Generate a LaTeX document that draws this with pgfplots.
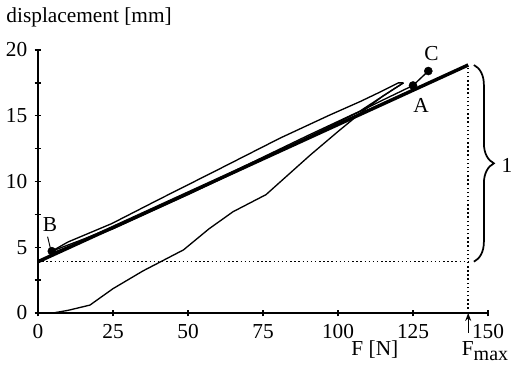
\documentclass[border=0pt]{standalone}
\usepackage{fontspec}
\setmainfont{Liberation Serif}
\usepackage{pgfplots}
\pgfplotsset{compat=1.18}
\usetikzlibrary{decorations.pathreplacing,arrows.meta}
\begin{document}
\begin{tikzpicture}[x=1pt,y=1pt,font=\fontsize{16}{18}\selectfont]
\useasboundingbox (-28.5,-45) rectangle (357,234.75);
\begin{axis}[
  at={(0,0)}, anchor=south west,
  scale only axis, width=337.5pt, height=197.25pt,
  xmin=0, xmax=150, ymin=0, ymax=20,
  axis x line=bottom, axis y line=left,
  axis line style={-, line width=1.3pt},
  xtick={0,25,...,150}, ytick={0,5,...,20},
  minor ytick={2.5,7.5,12.5,17.5},
  tick align=center,
  major tick length=5pt, minor tick length=5pt,
  tick style={line width=1pt, black},
  x tick style={line width=1.5pt},
  clip=false,
  /pgf/number format/assume math mode=true,
  ticklabel style={font=\fontsize{16}{18}\selectfont},
  xticklabel style={yshift=-2.5pt},
  yticklabel style={xshift=-2pt},
]
% thick fitted line
\addplot[black, line width=2.6pt] coordinates {(0,3.9) (143.4,18.86)};
% loading curve
\addplot[black, line width=1pt] coordinates {
 (0,0) (5,0) (10,0.2) (17.3,0.6) (25,1.85) (35,3.2) (48.5,4.8) (57,6.4)
 (65,7.7) (76,9.0) (90.7,12.0) (100,13.8) (108,15.3) (115,16.5) (121.8,17.5)};
% upper reloading line
\addplot[black, line width=1pt] coordinates {
 (4.6,4.7) (10,5.4) (24.6,6.8) (40,8.6) (60,10.9) (80.7,13.3) (97.3,15.06)
 (107.3,16.07) (114,16.8) (120.1,17.5) (121.8,17.5)};
% return line
\addplot[black, line width=1pt] coordinates {
 (121.8,17.5) (115,16.5) (107.3,15.35) (90,13.5) (70,11.3) (50,9.1)
 (30,7.0) (15,5.6) (4.6,4.7)};
% lower line through A to C
\addplot[black, line width=1pt] coordinates {
 (4.6,4.55) (25,6.4) (50,9.0) (75,11.7) (100,14.5) (115,16.2) (125,17.3) (130.1,18.4)};
% points B, A, C
\addplot[only marks, mark=*, mark size=3pt, black] coordinates {
 (4.6,4.7) (125,17.3) (130.1,18.4)};
% dotted guides
\draw[dotted, line width=1.1pt] (axis cs:0,3.9) -- (axis cs:143.4,3.9);
\draw[dotted, line width=1.1pt] (axis cs:143.4,0) -- (axis cs:143.4,18.86);
% Fmax arrow
\draw[-{Stealth[length=6pt,width=4.5pt]}, line width=0.8pt] (axis cs:143.4,-1.5) -- (axis cs:143.4,0);
% brace
\draw[decorate, decoration={brace, amplitude=15pt}, line width=1.3pt]
  (axis cs:145.3,18.86) -- (axis cs:145.3,3.9);
% B leader
\draw[line width=0.7pt] (axis cs:3.2,5.8) -- (axis cs:4.1,4.95);
% labels
\node[anchor=west, inner sep=0pt] at (axis cs:-10.6,22.5) {displacement [mm]};
\node[inner sep=0pt] at (axis cs:112.3,-2.75) {F [N]};
\node[anchor=west, inner sep=0pt] at (axis cs:141.2,-2.9) {F\raisebox{-0.55ex}{\fontsize{15}{16}\selectfont max}};
\node[inner sep=0pt] at (axis cs:156.3,11.25) {1};
\node[inner sep=0pt] at (axis cs:127.7,15.8) {A};
\node[inner sep=0pt] at (axis cs:4,6.7) {B};
\node[inner sep=0pt] at (axis cs:131.2,19.7) {C};
\end{axis}
\end{tikzpicture}
\end{document}
